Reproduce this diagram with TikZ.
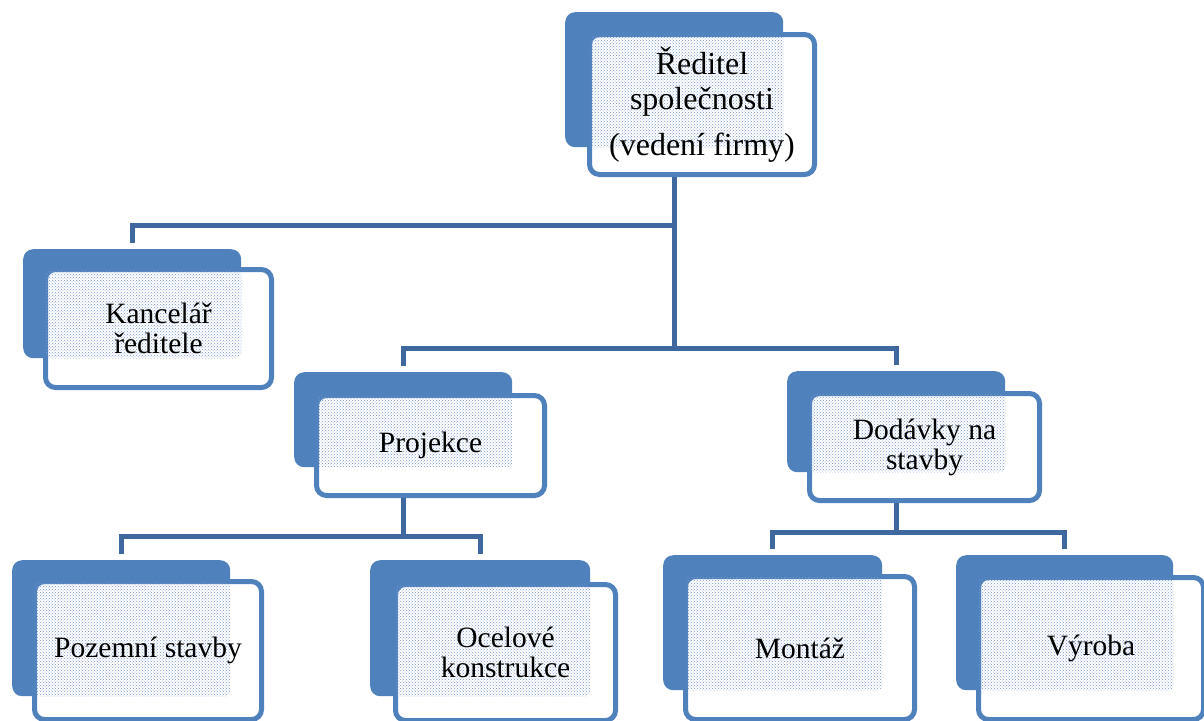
\documentclass[tikz,border=0pt]{standalone}
\usepackage{fontspec}
\setmainfont{Liberation Serif}
\usetikzlibrary{patterns}

\definecolor{tabblue}{HTML}{4F81BD}
\definecolor{linkblue}{HTML}{3F689E}
\definecolor{dotblue}{HTML}{7897CC}

\begin{document}
\begin{tikzpicture}[x=1pt,y=-1pt,
    backtab/.style={rectangle,rounded corners=10pt,fill=tabblue,anchor=north west,inner sep=0pt},
    card/.style={rectangle,rounded corners=10pt,draw=tabblue,line width=5pt,fill=white,anchor=north west,inner sep=0pt},
    dotfill/.style={pattern=crosshatch dots,pattern color=dotblue,rounded corners=6pt},
    txt/.style={font=\fontsize{29.5}{30}\selectfont,align=center,inner sep=0pt},
    link/.style={draw=linkblue,line width=5pt}]
    \useasboundingbox (0,0) rectangle (1204,720);

    % reditel
    \node[backtab,minimum width=218pt,minimum height=135pt](rT) at (565,12){};
    \node[card,minimum width=225pt,minimum height=140pt](rC) at (587,32){};
    \fill[dotfill] ([shift={(2.5pt,-2.5pt)}]rC.north west) rectangle (rT.south east);
    \node[txt,font=\fontsize{32}{35}\selectfont](rL) at (rC.center){Ředitel\\společnosti\\[11pt](vedení firmy)};

    % kancelar
    \node[backtab,minimum width=218pt,minimum height=109pt](kT) at (23,249){};
    \node[card,minimum width=226pt,minimum height=118pt](kC) at (43,267){};
    \fill[dotfill] ([shift={(2.5pt,-2.5pt)}]kC.north west) rectangle (kT.south east);
    \node[txt](kL) at (kC.center){Kancelář\\ředitele};

    % projekce
    \node[backtab,minimum width=218pt,minimum height=95pt](pT) at (294,372){};
    \node[card,minimum width=228pt,minimum height=100pt](pC) at (314,393){};
    \fill[dotfill] ([shift={(2.5pt,-2.5pt)}]pC.north west) rectangle (pT.south east);
    \node[txt](pL) at (pC.center){Projekce};

    % dodavky
    \node[backtab,minimum width=218pt,minimum height=101pt](dT) at (787,371){};
    \node[card,minimum width=230pt,minimum height=107pt](dC) at (807,391){};
    \fill[dotfill] ([shift={(2.5pt,-2.5pt)}]dC.north west) rectangle (dT.south east);
    \node[txt](dL) at (dC.center){Dodávky na\\stavby};

    % pozemni
    \node[backtab,minimum width=218pt,minimum height=136pt](zT) at (12,560){};
    \node[card,minimum width=227pt,minimum height=138pt](zC) at (32,579){};
    \fill[dotfill] ([shift={(2.5pt,-2.5pt)}]zC.north west) rectangle (zT.south east);
    \node[txt](zL) at (zC.center){Pozemní stavby};

    % ocelove
    \node[backtab,minimum width=220pt,minimum height=136pt](oT) at (370,560){};
    \node[card,minimum width=220pt,minimum height=136pt](oC) at (393,582){};
    \fill[dotfill] ([shift={(2.5pt,-2.5pt)}]oC.north west) rectangle (oT.south east);
    \node[txt](oL) at (oC.center){Ocelové\\konstrukce};

    % montaz
    \node[backtab,minimum width=219pt,minimum height=135pt](mT) at (663,555){};
    \node[card,minimum width=229pt,minimum height=143pt](mC) at (683,574){};
    \fill[dotfill] ([shift={(2.5pt,-2.5pt)}]mC.north west) rectangle (mT.south east);
    \node[txt](mL) at (mC.center){Montáž};

    % vyroba
    \node[backtab,minimum width=217pt,minimum height=135pt](vT) at (956,555){};
    \node[card,minimum width=225pt,minimum height=142pt](vC) at (976,575){};
    \fill[dotfill] ([shift={(2.5pt,-2.5pt)}]vC.north west) rectangle (vT.south east);
    \node[txt](vL) at (vC.center){Výroba};

    % spojnice
    \coordinate (j1) at (rT.south |- 0,225);
    \coordinate (j2) at (rT.south |- 0,348);
    \coordinate (j3) at (pT.south |- 0,536);
    \coordinate (j4) at (dT.south |- 0,532);
    \draw[link] (rT.south |- rC.south) -- (j2);
    \draw[link] (j1) -| ([yshift=6pt]kT.north);
    \draw[link] ([yshift=6pt]pT.north) |- (j2) -| ([yshift=6pt]dT.north);
    \draw[link] (pT.south |- pC.south) -- (j3);
    \draw[link] ([yshift=6pt]zT.north) |- (j3) -| ([yshift=6pt]oT.north);
    \draw[link] (dT.south |- dC.south) -- (j4);
    \draw[link] ([yshift=6pt]mT.north) |- (j4) -| ([yshift=6pt]vT.north);
\end{tikzpicture}
\end{document}
